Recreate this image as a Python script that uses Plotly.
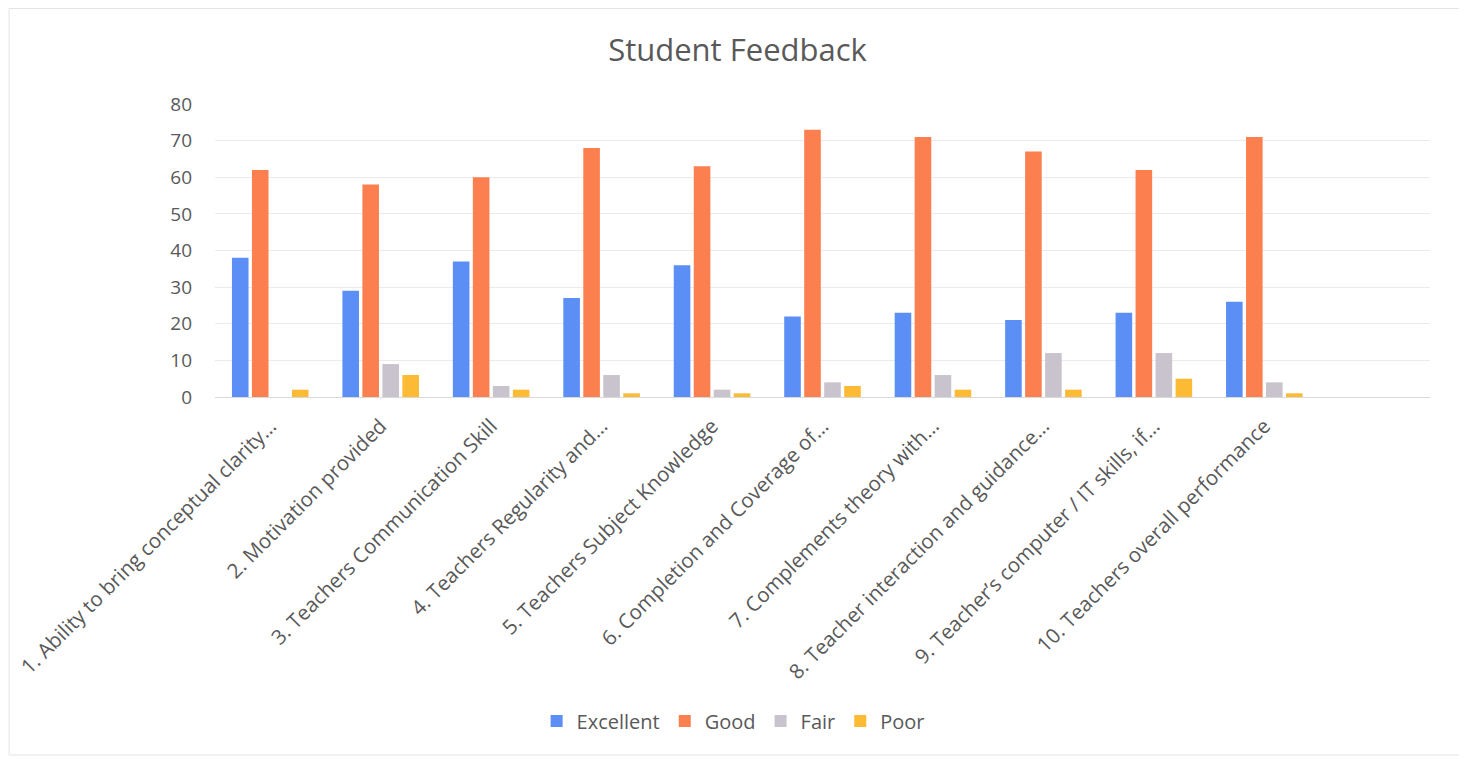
"""Student feedback grouped bar chart."""

import plotly.graph_objects as go

CATEGORIES = [
    "1. Ability to bring conceptual clarity…",
    "2. Motivation provided",
    "3. Teachers Communication Skill",
    "4. Teachers Regularity and…",
    "5. Teachers Subject Knowledge",
    "6. Completion and Coverage of…",
    "7. Complements theory with…",
    "8. Teacher interaction and guidance…",
    "9. Teacher’s computer / IT skills, if…",
    "10. Teachers overall performance",
]
EXCELLENT = [38, 29, 37, 27, 36, 22, 23, 21, 23, 26]
GOOD = [62, 58, 60, 68, 63, 73, 71, 67, 62, 71]
FAIR = [0, 9, 3, 6, 2, 4, 6, 12, 12, 4]
POOR = [2, 6, 2, 1, 1, 3, 2, 2, 5, 1]
Y_TICKS = [0, 10, 20, 30, 40, 50, 60, 70, 80]

SERIES = [
    ("Excellent", EXCELLENT, "#5B8FF5"),
    ("Good", GOOD, "#FB7F4F"),
    ("Fair", FAIR, "#C9C3CD"),
    ("Poor", POOR, "#FDBA35"),
]

TEXT = "#595959"
FONT = "Open Sans"

x_pos = list(range(len(CATEGORIES)))

fig = go.Figure()
for name, vals, color in SERIES:
    fig.add_trace(go.Bar(x=x_pos, y=vals, name=name, marker=dict(color=color, line=dict(width=0))))

# page body has an 8px margin, so the figure is 8px smaller than the window
fig.update_layout(
    width=1459,
    height=751,
    paper_bgcolor="white",
    plot_bgcolor="white",
    barmode="group",
    bargap=0.276,
    bargroupgap=0.17,
    margin=dict(l=207, r=37, t=96, b=362),
    font=dict(family=FONT, color=TEXT, size=18),
    title=dict(
        text="Student Feedback",
        x=0.5, xref="container", xanchor="center",
        y=0.944, yref="container", yanchor="middle",
        font=dict(size=31, color=TEXT, family=FONT),
    ),
    showlegend=True,
    legend=dict(
        orientation="h",
        x=0.497, xref="container", xanchor="center",
        y=0.0506, yref="container", yanchor="middle",
        font=dict(size=20, color=TEXT),
        traceorder="normal",
        itemwidth=30,
    ),
    xaxis=dict(
        tickmode="array",
        tickvals=x_pos,
        ticktext=CATEGORIES,
        range=[-0.5, 10.5],
        tickangle=-45,
        automargin=False,
        showgrid=False,
        showline=True,
        linecolor="#D9D9D9",
        linewidth=1,
        ticks="",
        ticklabelstandoff=8,
        tickfont=dict(size=20.5, color=TEXT),
    ),
    yaxis=dict(
        range=[0, 80],
        tickvals=Y_TICKS,
        automargin=False,
        showgrid=True,
        gridcolor="#EBEBEB",
        gridwidth=1,
        zeroline=False,
        showline=False,
        ticks="",
        ticklabelstandoff=22,
        tickfont=dict(size=19, color=TEXT),
    ),
    shapes=[
        dict(
            type="rect", xref="paper", yref="paper",
            x0=-0.1695, x1=1.0247, y0=-1.222, y1=1.326,
            line=dict(color="#E4E4E4", width=1),
        )
    ],
)

fig.write_html("out.html")
